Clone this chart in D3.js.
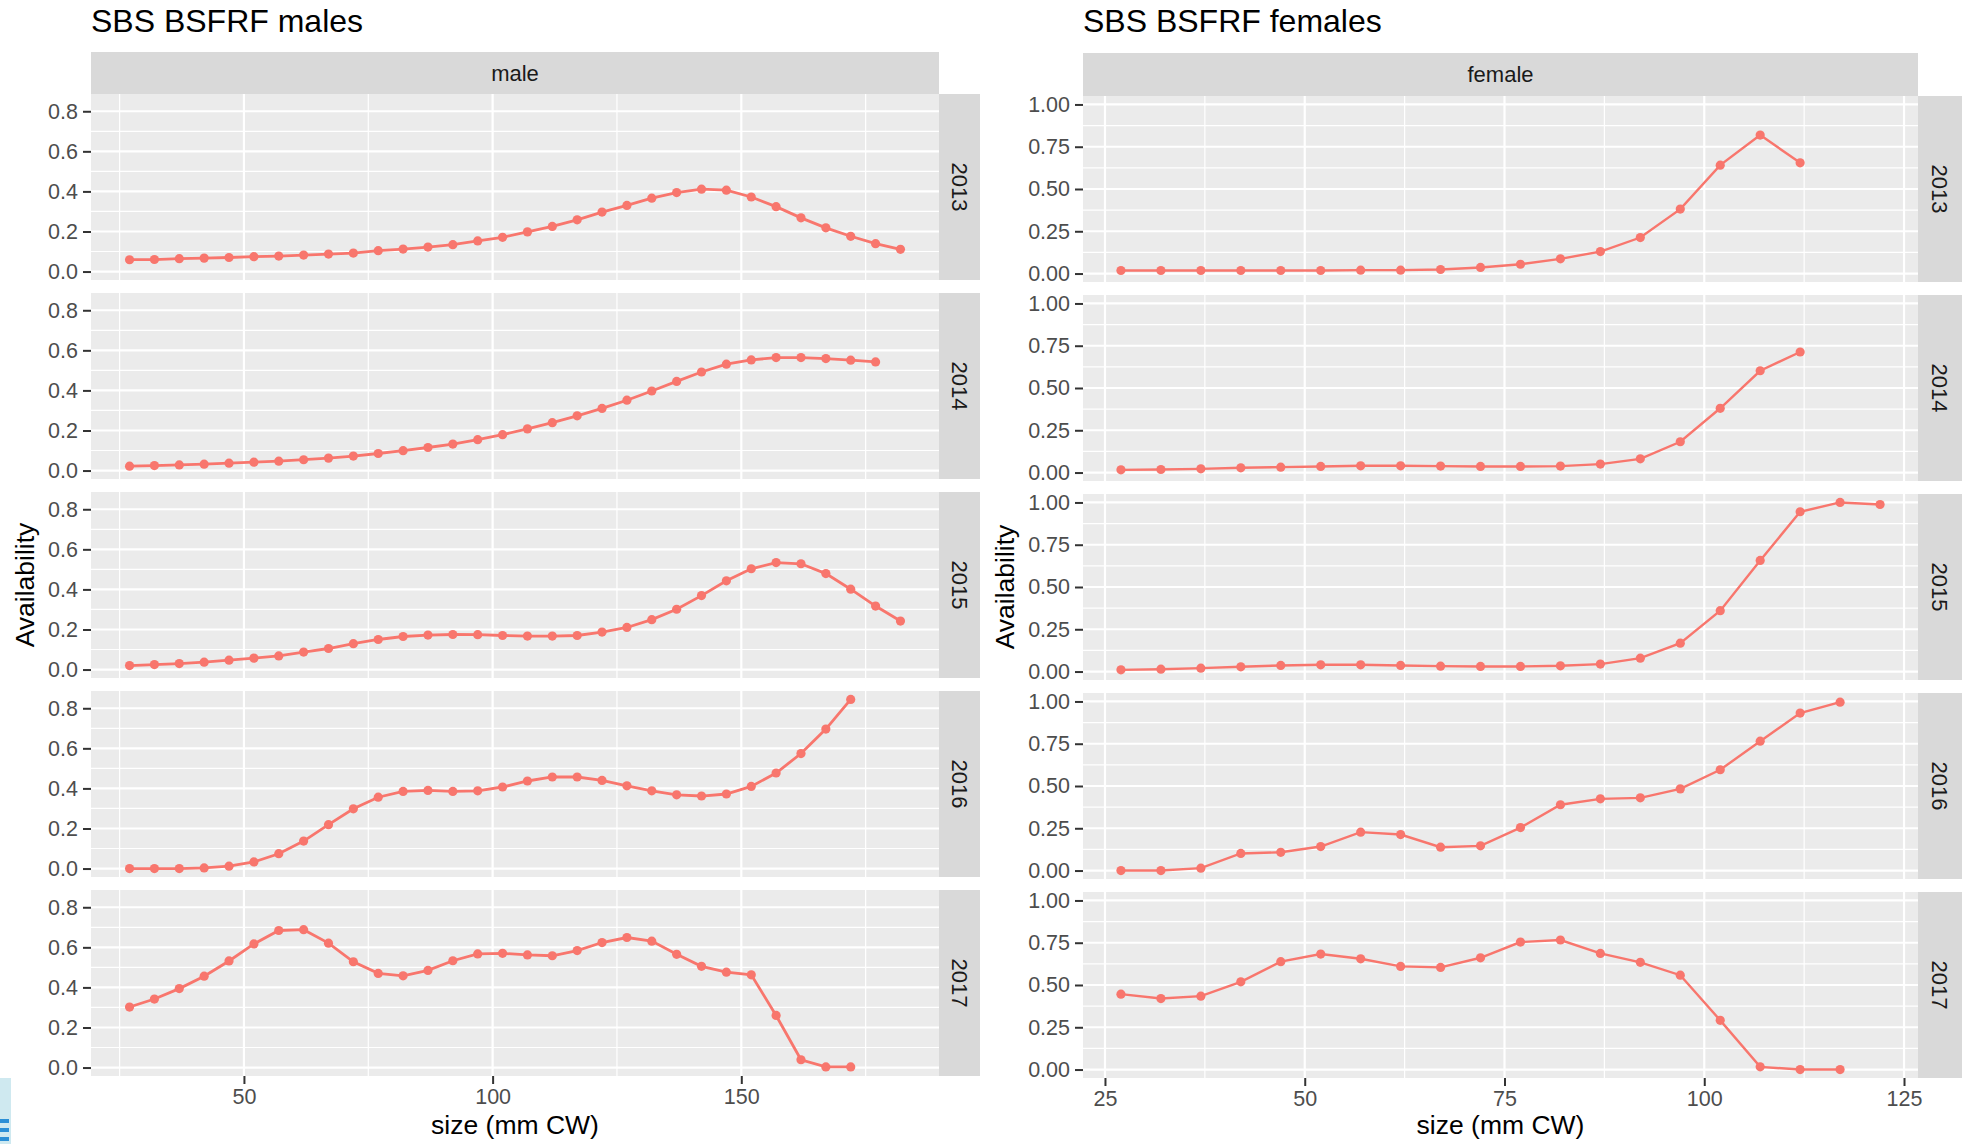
<!DOCTYPE html>
<html>
<head>
<meta charset="utf-8">
<script src="https://cdn.jsdelivr.net/npm/d3@7"></script>
<style>
  html, body { margin: 0; padding: 0; background: #fff; }
  svg { display: block; font-family: "Liberation Sans", Arial, Helvetica, sans-serif; }
  .tick text { fill: #4d4d4d; }
  .tick line { stroke: #333; }
</style>
</head>
<body>
<div id="chart"></div>
<script>

// ---- data ----

const years = ['2013', '2014', '2015', '2016', '2017'];

const maleSizes = [27, 32, 37, 42, 47, 52, 57, 62, 67, 72, 77, 82, 87, 92, 97, 102, 107, 112, 117, 122, 127, 132, 137, 142, 147, 152, 157, 162, 167, 172, 177, 182];
const femaleSizes = [27, 32, 37, 42, 47, 52, 57, 62, 67, 72, 77, 82, 87, 92, 97, 102, 107, 112, 117, 122];

const male2013 = [0.059, 0.060, 0.064, 0.067, 0.070, 0.074, 0.077, 0.082, 0.087, 0.092, 0.104, 0.112, 0.122, 0.134, 0.153, 0.171, 0.198, 0.225, 0.258, 0.297, 0.330, 0.366, 0.394, 0.411, 0.406, 0.372, 0.324, 0.268, 0.218, 0.176, 0.139, 0.111];
const male2014 = [0.022, 0.025, 0.028, 0.032, 0.037, 0.042, 0.047, 0.054, 0.062, 0.072, 0.085, 0.099, 0.115, 0.132, 0.154, 0.179, 0.208, 0.239, 0.273, 0.310, 0.351, 0.397, 0.445, 0.492, 0.531, 0.552, 0.564, 0.564, 0.559, 0.551, 0.542];
const male2015 = [0.020, 0.025, 0.030, 0.037, 0.047, 0.057, 0.068, 0.087, 0.105, 0.129, 0.150, 0.165, 0.172, 0.175, 0.174, 0.170, 0.167, 0.167, 0.170, 0.187, 0.210, 0.249, 0.301, 0.369, 0.443, 0.503, 0.534, 0.528, 0.479, 0.401, 0.317, 0.242];
const male2016 = [0.000, 0.000, 0.000, 0.003, 0.012, 0.033, 0.074, 0.137, 0.219, 0.298, 0.356, 0.385, 0.390, 0.385, 0.388, 0.407, 0.437, 0.457, 0.457, 0.440, 0.413, 0.388, 0.368, 0.362, 0.372, 0.410, 0.477, 0.574, 0.696, 0.844];
const male2017 = [0.302, 0.342, 0.394, 0.456, 0.532, 0.617, 0.684, 0.688, 0.621, 0.528, 0.470, 0.458, 0.485, 0.533, 0.567, 0.570, 0.562, 0.558, 0.584, 0.624, 0.649, 0.631, 0.565, 0.505, 0.476, 0.463, 0.260, 0.039, 0.003, 0.003];

const female2013 = [0.018, 0.018, 0.018, 0.018, 0.018, 0.018, 0.020, 0.020, 0.024, 0.036, 0.055, 0.087, 0.130, 0.213, 0.381, 0.641, 0.819, 0.655];
const female2014 = [0.016, 0.018, 0.022, 0.028, 0.032, 0.036, 0.040, 0.040, 0.038, 0.036, 0.036, 0.038, 0.050, 0.081, 0.182, 0.380, 0.602, 0.713];
const female2015 = [0.010, 0.014, 0.020, 0.028, 0.036, 0.040, 0.040, 0.036, 0.032, 0.030, 0.030, 0.034, 0.044, 0.079, 0.168, 0.360, 0.657, 0.945, 1.000, 0.988];
const female2016 = [0.000, 0.000, 0.014, 0.101, 0.108, 0.142, 0.227, 0.213, 0.138, 0.146, 0.254, 0.389, 0.424, 0.430, 0.483, 0.596, 0.765, 0.931, 0.996];
const female2017 = [0.446, 0.420, 0.434, 0.519, 0.638, 0.683, 0.655, 0.610, 0.604, 0.661, 0.754, 0.766, 0.687, 0.634, 0.558, 0.291, 0.016, 0.000, 0.000];

const maleYTicks = [0, 0.2, 0.4, 0.6, 0.8];
const maleYMinor = [0.1, 0.3, 0.5, 0.7];
const maleXTicks = [50, 100, 150];
const maleXMinor = [25, 75, 125, 175];

const femaleYTicks = [0, 0.25, 0.5, 0.75, 1];
const femaleYMinor = [0.125, 0.375, 0.625, 0.875];
const femaleXTicks = [25, 50, 75, 100, 125];
const femaleXMinor = [37.5, 62.5, 87.5, 112.5];

// ---- drawing ----

const W = 1962, H = 1144;
const PANEL_H = 186, PANEL_GAP = 13;
const RED = '#F8766D';

const svg = d3.select('#chart').append('svg')
  .attr('width', W)
  .attr('height', H);

// ggplot style 5% expansion
const expand = (ext) => {
  const pad = (ext[1] - ext[0]) * 0.05;
  return [ext[0] - pad, ext[1] + pad];
};

function drawFacet(cfg) {

  const g = svg.append('g');

  const allX = cfg.series.flatMap((s) => cfg.sizes.slice(0, s.length));
  const allY = cfg.series.flat();

  const x = d3.scaleLinear()
    .domain(expand(d3.extent(allX)))
    .range([cfg.x0, cfg.x1]);

  const yDomain = expand(d3.extent(allY));

  // title
  g.append('text')
    .attr('x', cfg.x0)
    .attr('y', 32)
    .attr('font-size', 32)
    .attr('fill', '#000')
    .text(cfg.title);

  // column strip
  g.append('rect')
    .attr('x', cfg.x0)
    .attr('y', cfg.headerTop)
    .attr('width', cfg.x1 - cfg.x0)
    .attr('height', cfg.top - cfg.headerTop)
    .attr('fill', '#d9d9d9');

  g.append('text')
    .attr('x', (cfg.x0 + cfg.x1) / 2)
    .attr('y', (cfg.headerTop + cfg.top) / 2)
    .attr('dy', '0.35em')
    .attr('text-anchor', 'middle')
    .attr('font-size', 22)
    .attr('fill', '#1a1a1a')
    .text(cfg.sex);

  const line = d3.line();

  cfg.series.forEach((vals, i) => {

    const top = cfg.top + i * (PANEL_H + PANEL_GAP);
    const bottom = top + PANEL_H;

    const y = d3.scaleLinear()
      .domain(yDomain)
      .range([bottom, top]);

    const p = g.append('g');

    p.append('rect')
      .attr('x', cfg.x0)
      .attr('y', top)
      .attr('width', cfg.x1 - cfg.x0)
      .attr('height', PANEL_H)
      .attr('fill', '#ebebeb');

    // minor grid
    p.selectAll('.hmin').data(cfg.yMinor).enter().append('line')
      .attr('x1', cfg.x0).attr('x2', cfg.x1)
      .attr('y1', (d) => y(d)).attr('y2', (d) => y(d))
      .attr('stroke', '#fff').attr('stroke-width', 1.2);

    p.selectAll('.vmin').data(cfg.xMinor).enter().append('line')
      .attr('y1', top).attr('y2', bottom)
      .attr('x1', (d) => x(d)).attr('x2', (d) => x(d))
      .attr('stroke', '#fff').attr('stroke-width', 1.2);

    // major grid
    p.selectAll('.hmaj').data(cfg.yTicks).enter().append('line')
      .attr('x1', cfg.x0).attr('x2', cfg.x1)
      .attr('y1', (d) => y(d)).attr('y2', (d) => y(d))
      .attr('stroke', '#fff').attr('stroke-width', 2.2);

    p.selectAll('.vmaj').data(cfg.xTicks).enter().append('line')
      .attr('y1', top).attr('y2', bottom)
      .attr('x1', (d) => x(d)).attr('x2', (d) => x(d))
      .attr('stroke', '#fff').attr('stroke-width', 2.2);

    const pts = vals.map((v, j) => [x(cfg.sizes[j]), y(v)]);

    p.append('path')
      .attr('d', line(pts))
      .attr('fill', 'none')
      .attr('stroke', RED)
      .attr('stroke-width', cfg.lineW);

    p.selectAll('circle').data(pts).enter().append('circle')
      .attr('cx', (d) => d[0])
      .attr('cy', (d) => d[1])
      .attr('r', 4.6)
      .attr('fill', RED);

    // row strip
    p.append('rect')
      .attr('x', cfg.x1)
      .attr('y', top)
      .attr('width', cfg.stripW)
      .attr('height', PANEL_H)
      .attr('fill', '#d9d9d9');

    p.append('text')
      .attr('transform', `translate(${cfg.x1 + cfg.stripW / 2}, ${top + PANEL_H / 2}) rotate(90)`)
      .attr('dy', '0.35em')
      .attr('text-anchor', 'middle')
      .attr('font-size', 22)
      .attr('fill', '#1a1a1a')
      .text(years[i]);

    // y axis
    const ya = p.append('g')
      .attr('transform', `translate(${cfg.x0}, 0)`)
      .call(d3.axisLeft(y).tickValues(cfg.yTicks).tickFormat(d3.format(cfg.yFmt)).tickSize(8).tickPadding(5));
    ya.select('.domain').remove();
    ya.selectAll('.tick line').attr('stroke-width', 2);
    ya.selectAll('.tick text').attr('font-size', 21.5).attr('font-family', null);

    if (i === cfg.series.length - 1) {
      const xa = p.append('g')
        .attr('transform', `translate(0, ${bottom})`)
        .call(d3.axisBottom(x).tickValues(cfg.xTicks).tickSize(8).tickPadding(5));
      xa.select('.domain').remove();
      xa.selectAll('.tick line').attr('stroke-width', 2);
      xa.selectAll('.tick text').attr('font-size', 21.5).attr('font-family', null);

      g.append('text')
        .attr('x', (cfg.x0 + cfg.x1) / 2)
        .attr('y', 1134)
        .attr('text-anchor', 'middle')
        .attr('font-size', 26.5)
        .attr('fill', '#000')
        .text('size (mm CW)');

      const midY = (cfg.top + bottom) / 2;
      g.append('text')
        .attr('transform', `translate(${cfg.yTitleX}, ${midY}) rotate(-90)`)
        .attr('text-anchor', 'middle')
        .attr('font-size', 26.5)
        .attr('fill', '#000')
        .text('Availability');
    }

  });

}

drawFacet({
  title: 'SBS BSFRF males',
  sex: 'male',
  sizes: maleSizes,
  series: [male2013, male2014, male2015, male2016, male2017],
  yTicks: maleYTicks, yMinor: maleYMinor,
  xTicks: maleXTicks, xMinor: maleXMinor,
  yFmt: '.1f',
  x0: 91, x1: 939, stripW: 41,
  headerTop: 52, top: 94,
  yTitleX: 34,
  lineW: 2.8
});

drawFacet({
  title: 'SBS BSFRF females',
  sex: 'female',
  sizes: femaleSizes,
  series: [female2013, female2014, female2015, female2016, female2017],
  yTicks: femaleYTicks, yMinor: femaleYMinor,
  xTicks: femaleXTicks, xMinor: femaleXMinor,
  yFmt: '.2f',
  x0: 1083, x1: 1918, stripW: 44,
  headerTop: 53, top: 96,
  yTitleX: 1014,
  lineW: 2.4
});

// cropped blue icon at the lower-left edge of the source image
svg.append('rect')
  .attr('x', 0).attr('y', 1078)
  .attr('width', 11).attr('height', 66)
  .attr('fill', '#cfe9f0');

svg.selectAll('.icon').data([1119, 1128, 1137]).enter().append('rect')
  .attr('x', 0).attr('y', (d) => d)
  .attr('width', 9).attr('height', 4)
  .attr('fill', '#2b8fd6');

</script>
</body>
</html>
